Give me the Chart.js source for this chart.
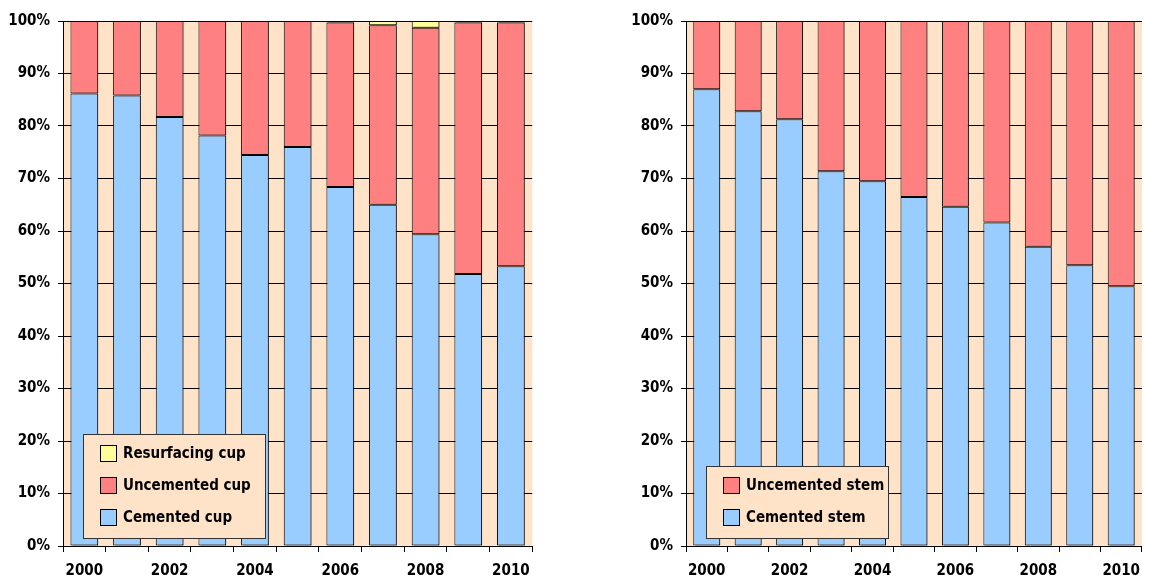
<!DOCTYPE html>
<html>
<head>
<meta charset="utf-8">
<script src="https://cdn.jsdelivr.net/npm/chart.js@4.4.0/dist/chart.umd.min.js"></script>
<style>
  body { margin: 0; background: #fff; width: 1150px; height: 581px; position: relative; overflow: hidden; }
  .box { position: absolute; top: 0; height: 581px; }
  #leftBox { left: 0; width: 540px; }
  #rightBox { left: 623px; width: 527px; }
</style>
</head>
<body>
<div class="box" id="leftBox"><canvas id="cupChart" width="540" height="581"></canvas></div>
<div class="box" id="rightBox"><canvas id="stemChart" width="527" height="581"></canvas></div>
<script>
"use strict";
// Data (percent of operations per year)
const years = ['2000', '2001', '2002', '2003', '2004', '2005', '2006', '2007', '2008', '2009', '2010'];
const cementedCup    = [86.2, 85.8, 81.7, 78.2, 74.5, 76.0, 68.4, 65.0, 59.4, 51.8, 53.3];
const uncementedCup  = [13.8, 14.2, 18.3, 21.8, 25.5, 24.0, 31.3, 34.2, 39.3, 47.9, 46.4];
const resurfacingCup = [0, 0, 0, 0, 0, 0, 0.3, 0.8, 1.3, 0.3, 0.3];
const cementedStem   = [87.0, 82.8, 81.3, 71.4, 69.5, 66.5, 64.6, 61.6, 57.0, 53.5, 49.5];
const uncementedStem = [13.0, 17.2, 18.7, 28.6, 30.5, 33.5, 35.4, 38.4, 43.0, 46.5, 50.5];

const BLUE = '#99CCFF';
const RED = '#FF8080';
const YELLOW = '#FFFF99';
const PEACH = '#FFE3C8';
const FONT = '"DejaVu Sans Condensed", "DejaVu Sans", sans-serif';

Chart.defaults.font.family = FONT;
Chart.defaults.font.size = 15;
Chart.defaults.font.weight = 'bold';
Chart.defaults.color = '#000';

// peach plot background
const plotBackground = {
    id: 'plotBackground',
    beforeDraw(chart) {
        const {ctx, chartArea: a} = chart;
        ctx.save();
        ctx.fillStyle = PEACH;
        ctx.fillRect(a.left, a.top, a.right - a.left, a.bottom - a.top);
        ctx.restore();
    }
};

// small drop shadow on bars, like the spreadsheet original
const barShadow = {
    id: 'barShadow',
    beforeDatasetsDraw(chart) {
        const ctx = chart.ctx;
        ctx.save();
        ctx.shadowColor = 'rgba(0,0,0,0.35)';
        ctx.shadowOffsetX = 2;
        ctx.shadowOffsetY = 1;
        ctx.shadowBlur = 0;
    },
    afterDatasetsDraw(chart) {
        chart.ctx.restore();
    }
};

// legend box drawn inside the plot, bottom left
const insideLegend = {
    id: 'insideLegend',
    afterDatasetsDraw(chart) {
        const {ctx, chartArea: a} = chart;
        const sets = chart.data.datasets.slice().reverse();
        const w = 182;
        const h = 40 + (sets.length - 1) * 32;
        const x = a.left + 20;
        const y = a.bottom - 8 - h;
        ctx.save();
        ctx.fillStyle = PEACH;
        ctx.fillRect(x, y, w, h);
        ctx.strokeStyle = '#333';
        ctx.lineWidth = 1;
        ctx.strokeRect(x + 0.5, y + 0.5, w, h);
        ctx.font = 'bold 15px ' + FONT;
        ctx.textBaseline = 'middle';
        sets.forEach((ds, i) => {
            const cy = y + 19 + i * 32;
            ctx.fillStyle = ds.backgroundColor;
            ctx.fillRect(x + 17, cy - 8, 16, 16);
            ctx.strokeStyle = '#000';
            ctx.strokeRect(x + 17.5, cy - 7.5, 16, 16);
            ctx.fillStyle = '#000';
            ctx.fillText(ds.label, x + 40, cy + 1);
        });
        ctx.restore();
    }
};

function barSet(label, data, color) {
    return {
        label: label,
        data: data,
        backgroundColor: color,
        borderColor: '#000',
        borderWidth: 1,
        borderSkipped: false,
        barPercentage: 0.65,
        categoryPercentage: 1
    };
}

function makeChart(id, datasets, padRight) {
    return new Chart(document.getElementById(id), {
        type: 'bar',
        data: { labels: years, datasets: datasets },
        options: {
            responsive: false,
            animation: false,
            layout: { padding: { top: 21, right: padRight, left: 0, bottom: 0 } },
            plugins: { legend: { display: false }, tooltip: { enabled: false } },
            scales: {
                x: {
                    stacked: true,
                    grid: { drawOnChartArea: false, color: '#000', tickLength: 6 },
                    border: { color: '#000', width: 1 },
                    ticks: {
                        autoSkip: false,
                        maxRotation: 0,
                        padding: 10,
                        callback: (v, i) => (i % 2 === 0 ? years[i] : '')
                    },
                    afterFit: scale => { scale.height = 35; }
                },
                y: {
                    stacked: true,
                    min: 0,
                    max: 100,
                    grid: { color: '#000', lineWidth: 1, tickLength: 5 },
                    border: { color: '#000', width: 1 },
                    ticks: { stepSize: 10, padding: 8, callback: v => v + '%' },
                    afterFit: scale => { scale.width = 63; }
                }
            }
        },
        plugins: [plotBackground, barShadow, insideLegend]
    });
}

makeChart('cupChart', [
    barSet('Cemented cup', cementedCup, BLUE),
    barSet('Uncemented cup', uncementedCup, RED),
    barSet('Resurfacing cup', resurfacingCup, YELLOW)
], 7);

makeChart('stemChart', [
    barSet('Cemented stem', cementedStem, BLUE),
    barSet('Uncemented stem', uncementedStem, RED)
], 1);
</script>
</body>
</html>
